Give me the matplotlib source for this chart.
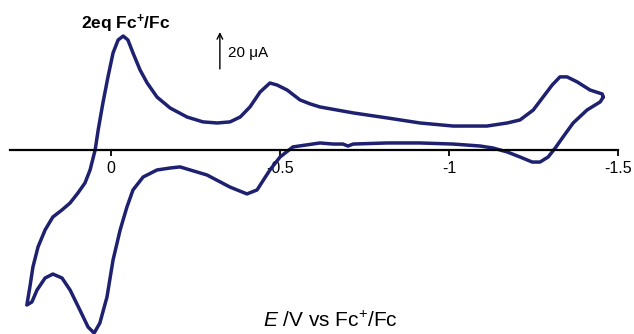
import matplotlib
matplotlib.use('Agg')
import matplotlib.pyplot as plt

# potential (V vs Fc+/Fc) and current (uA), read around the closed CV loop
E = [-1.456, -1.453, -1.417, -1.379, -1.349, -1.328, -1.305, -1.278, -1.249, -1.210,
     -1.172, -1.112, -1.012, -0.914, -0.817, -0.716, -0.618, -0.589, -0.559, -0.521,
     -0.491, -0.470, -0.441, -0.411, -0.382, -0.352, -0.314, -0.272, -0.225, -0.175,
     -0.136, -0.107, -0.086, -0.065, -0.050, -0.036, -0.021, -0.006, 0.009, 0.024,
     0.038, 0.047, 0.062, 0.077, 0.098, 0.121, 0.145, 0.172, 0.195, 0.216,
     0.231, 0.240, 0.249, 0.234, 0.219, 0.195, 0.172, 0.145, 0.121, 0.092,
     0.068, 0.050, 0.033, 0.012, -0.006, -0.027, -0.047, -0.065, -0.095, -0.136,
     -0.175, -0.204, -0.284, -0.352, -0.402, -0.432, -0.470, -0.500, -0.538, -0.618,
     -0.657, -0.686, -0.701, -0.716, -0.817, -0.914, -1.012, -1.092, -1.130, -1.172,
     -1.210, -1.246, -1.269, -1.293, -1.314, -1.337, -1.367, -1.408, -1.447, -1.456]
I = [29.4, 31.1, 33.3, 37.8, 40.6, 40.6, 36.1, 29.4, 22.2, 16.7,
     15.0, 13.3, 13.3, 15.0, 17.8, 20.6, 23.9, 25.6, 27.8, 33.3,
     36.1, 37.2, 32.2, 23.9, 18.3, 15.6, 15.0, 15.6, 18.3, 23.3,
     29.4, 37.2, 44.4, 53.9, 61.1, 63.3, 61.1, 53.9, 40.6, 26.1,
     11.1, 0.0, -11.1, -18.3, -23.9, -29.4, -33.3, -37.2, -44.4, -53.9,
     -65.0, -76.1, -86.1, -84.4, -77.8, -71.1, -68.9, -71.1, -77.8, -88.9,
     -98.3, -101.7, -96.1, -81.7, -61.1, -44.4, -31.7, -22.2, -15.0, -11.1,
     -10.0, -9.4, -13.9, -20.6, -24.4, -22.2, -11.1, -3.9, 1.7, 3.9,
     3.3, 3.3, 2.2, 3.3, 3.9, 3.9, 3.3, 2.2, 1.1, -1.1,
     -3.9, -6.7, -6.7, -3.9, 1.1, 7.2, 15.0, 22.2, 26.7, 29.4]

xticks = [0, -0.5, -1, -1.5]
xticklabels = ['0', '-0.5', '-1', '-1.5']

plt.rcParams['font.family'] = ['Liberation Sans', 'DejaVu Sans']
plt.rcParams['mathtext.fontset'] = 'custom'
plt.rcParams['mathtext.rm'] = 'Liberation Sans'
plt.rcParams['mathtext.it'] = 'Liberation Sans:italic'
plt.rcParams['mathtext.bf'] = 'Liberation Sans:bold'

fig = plt.figure(figsize=(6.34, 3.34), dpi=100)
ax = fig.add_axes([0, 0, 1, 1])
ax.set_xlim(0.3284, -1.547)
ax.set_ylim(-102.2, 83.3)

ax.plot(E, I, color='#1e2070', linewidth=2.5,
        solid_joinstyle='round', solid_capstyle='round')

# x axis through zero current
for s in ['left', 'right', 'top']:
    ax.spines[s].set_visible(False)
ax.spines['bottom'].set_position(('data', 0))
ax.spines['bottom'].set_bounds(0.30, -1.5)
ax.spines['bottom'].set_linewidth(1.6)
ax.set_xticks(xticks)
ax.set_xticklabels(xticklabels, fontsize=11.5)
ax.tick_params(axis='x', direction='out', length=4, width=1.3, pad=4)
ax.set_yticks([])

# 20 uA scale bar
ax.annotate('', xy=(-0.322, 65.5), xytext=(-0.322, 45.0),
            arrowprops=dict(arrowstyle='->', color='black', lw=1.0,
                            shrinkA=0, shrinkB=0))
ax.text(-0.345, 54.0, '20 μA', fontsize=11, ha='left', va='center')

ax.text(-0.044, 70.0, r'2eq Fc$^{\mathbf{+}}$/Fc', fontsize=12.5,
        fontweight='bold', ha='center', va='center')
ax.text(-0.648, -95.0, r'$\mathit{E}$ /V vs Fc$^{+}$/Fc', fontsize=15,
        ha='center', va='center')

fig.savefig('out.png', dpi=100)
